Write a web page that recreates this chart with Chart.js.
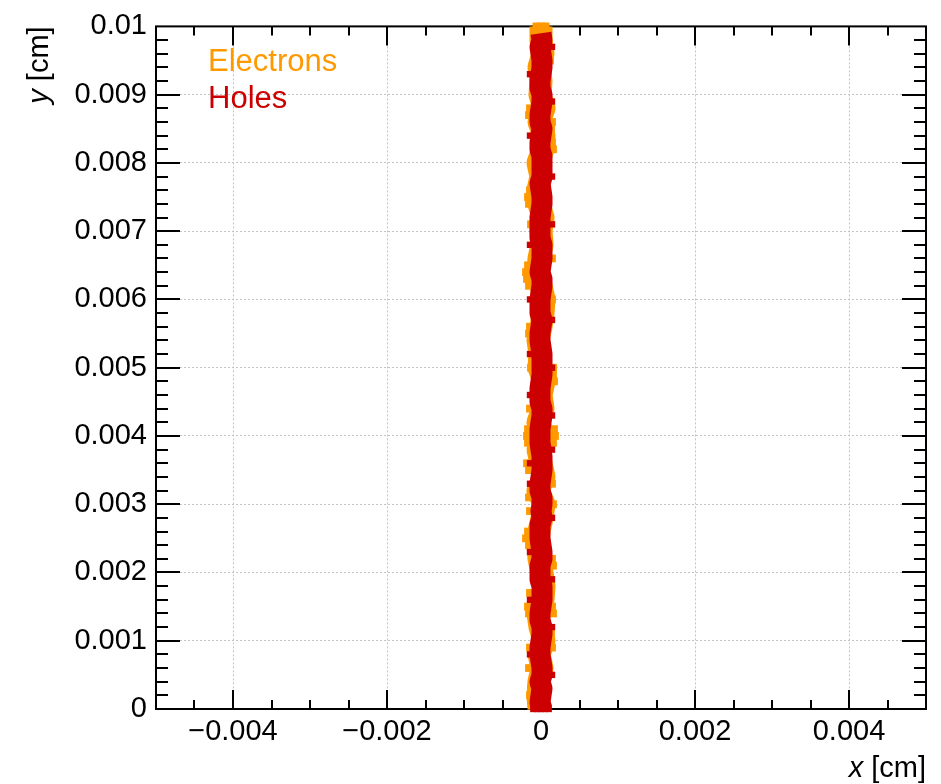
<!DOCTYPE html>
<html><head><meta charset="utf-8">
<script src="https://cdn.jsdelivr.net/npm/chart.js@4.4.1/dist/chart.umd.min.js"></script>
<style>html,body{margin:0;padding:0;background:#fff;overflow:hidden}</style>
</head><body><canvas id="c" width="941" height="784"></canvas>
<script>
// ---- data ----
const xMajorTicks = [-0.004, -0.002, 0, 0.002, 0.004];
const yMajorTicks = [0, 0.001, 0.002, 0.003, 0.004, 0.005, 0.006, 0.007, 0.008, 0.009, 0.01];
const xRange = [-0.005, 0.005];
const yRange = [0, 0.01];
const xMinorStep = 0.0005;
const yMinorStep = 0.0002;
const seriesNames = ['Electrons', 'Holes'];
const seriesColors = ['#ff9900', '#cc0000'];

const electronY = [0, 0.0002, 0.0004, 0.0006, 0.0008, 0.001, 0.0012, 0.0014, 0.0016, 0.0018,
  0.002, 0.0022, 0.0024, 0.0026, 0.0028, 0.003, 0.0032, 0.0034, 0.0036, 0.0038,
  0.004, 0.0042, 0.0044, 0.0046, 0.0048, 0.005, 0.0052, 0.0054, 0.0056, 0.0058,
  0.006, 0.0062, 0.0064, 0.0066, 0.0068, 0.007, 0.0072, 0.0074, 0.0076, 0.0078,
  0.008, 0.0082, 0.0084, 0.0086, 0.0088, 0.009, 0.0092, 0.0094, 0.0096, 0.0098, 0.01];
const electronX = [-0.000026, -0.000039, -0.000026, 0.000013, -0.000026, 0.000039, -0.000013, -0.000039, 0.000026, 0.000039,
  0.000013, -0.000026, -0.000039, -0.000026, 0.000013, 0.000039, -0.000039, 0.000039, 0, -0.000039,
  0.000039, -0.000039, 0.000026, 0, 0.000039, -0.000026, -0.000013, -0.000039, 0, 0.000026,
  0.000039, 0, -0.000039, -0.000026, 0.000013, 0, 0.000026, -0.000026, -0.000039, 0,
  -0.000039, 0.000026, 0.000039, -0.000026, 0.000039, -0.000013, 0, -0.000026, 0.000026, 0, 0];

const holeY = [0, 0.0001, 0.0002, 0.0003, 0.0004, 0.0005, 0.0006, 0.0007, 0.0008, 0.0009,
  0.001, 0.0011, 0.0012, 0.0013, 0.0014, 0.0015, 0.0016, 0.0017, 0.0018, 0.0019,
  0.002, 0.0021, 0.0022, 0.0023, 0.0024, 0.0025, 0.0026, 0.0027, 0.0028, 0.0029,
  0.003, 0.0031, 0.0032, 0.0033, 0.0034, 0.0035, 0.0036, 0.0037, 0.0038, 0.0039,
  0.004, 0.0041, 0.0042, 0.0043, 0.0044, 0.0045, 0.0046, 0.0047, 0.0048, 0.0049,
  0.005, 0.0051, 0.0052, 0.0053, 0.0054, 0.0055, 0.0056, 0.0057, 0.0058, 0.0059,
  0.006, 0.0061, 0.0062, 0.0063, 0.0064, 0.0065, 0.0066, 0.0067, 0.0068, 0.0069,
  0.007, 0.0071, 0.0072, 0.0073, 0.0074, 0.0075, 0.0076, 0.0077, 0.0078, 0.0079,
  0.008, 0.0081, 0.0082, 0.0083, 0.0084, 0.0085, 0.0086, 0.0087, 0.0088, 0.0089,
  0.009, 0.0091, 0.0092, 0.0093, 0.0094, 0.0095, 0.0096, 0.0097, 0.0098, 0.0099];
const holeX = [0.000013, -0.000013, 0, 0.000013, -0.000013, 0.000013, 0.000013, 0, -0.000013, -0.000013,
  0, 0.000013, 0.000013, -0.000013, -0.000013, 0, 0.000013, 0.000013, 0.000013, -0.000013,
  -0.000013, -0.000013, 0.000013, 0.000013, 0, -0.000013, -0.000013, -0.000013, 0.000013, 0,
  0.000013, 0.000013, -0.000013, -0.000013, 0, 0.000013, 0.000013, 0.000013, 0, -0.000013,
  -0.000013, -0.000013, 0, 0.000013, 0.000013, -0.000013, -0.000013, -0.000013, 0, 0.000013,
  0.000013, 0.000013, 0.000013, 0, -0.000013, -0.000013, 0, 0.000013, -0.000013, -0.000013,
  -0.000013, 0, 0.000013, 0.000013, -0.000013, 0, 0.000013, 0.000013, 0.000013, -0.000013,
  -0.000013, -0.000013, -0.000013, 0, 0.000013, 0.000013, 0, -0.000013, 0.000013, 0.000013,
  0.000013, 0.000013, -0.000013, -0.000013, 0, 0.000013, -0.000013, -0.000013, 0, 0.000013,
  0.000013, -0.000013, -0.000013, 0, 0.000013, 0.000013, 0, -0.000013, 0.000013, 0];

// scattered electron / hole positions sticking out of the band
const electronExtraX = [0.000117, -0.000143, 0.000143, -0.000156, 0.00013, 0.000143, 0.000156, -0.00013,
  -0.000169, -0.000156, -0.000143, -0.00013, 0.000143, -0.000195, -0.000182, -0.000169, -0.000156,
  0.000143, -0.000143, -0.000156, 0.000156, -0.00013, 0.000169, 0.000156, -0.000143,
  -0.000169, 0.000169, -0.000182, 0.000182, -0.000169, 0.000156, -0.000182, -0.000156, 0.000143,
  -0.000156, 0.000156, -0.000143, -0.000195, -0.000169, -0.000156, 0.000156, 0.000143, -0.000143,
  -0.000169, 0.000143, -0.000156, 0.000156, 0.00013, -0.000143, 0.000143, -0.000156, -0.00013, -0.000143,
  -0.00006, 0, 0.00006];
const electronExtraY = [0.0095, 0.0088, 0.0086, 0.0087, 0.0085, 0.0083, 0.0082, 0.008,
  0.0075, 0.0074, 0.0076, 0.0071, 0.0066, 0.0064, 0.0063, 0.0065, 0.0062,
  0.006, 0.0056, 0.0055, 0.005, 0.005, 0.0048, 0.0049, 0.0044,
  0.0041, 0.0041, 0.004, 0.004, 0.0039, 0.0039, 0.0036, 0.0035, 0.0033,
  0.0031, 0.003, 0.0029, 0.0025, 0.0026, 0.0024, 0.0021, 0.0022, 0.0017,
  0.0015, 0.0015, 0.0014, 0.0014, 0.0011, 0.0009, 0.0009, 0.0006, 0.0003, 0.0002,
  0.01, 0.01, 0.01];
const holeExtraX = [0.000143, -0.000143, 0.000143, -0.000143, 0.000143, 0.000143, -0.000143, -0.000143,
  0.000143, -0.000143, 0.000143, -0.000143, 0.000143, 0.000143, -0.000143, -0.000143, 0.000143,
  -0.000143, 0.000143, -0.000143, 0.000143, -0.000143, 0.000143,
  -0.0001, -0.00005, 0, 0.00005, 0.0001];
const holeExtraY = [0.0097, 0.0093, 0.0089, 0.0084, 0.0078, 0.0071, 0.0068, 0.006,
  0.0057, 0.0052, 0.005, 0.0046, 0.0043, 0.0038, 0.0036, 0.0033, 0.0028,
  0.0023, 0.0019, 0.0016, 0.0012, 0.0008, 0.0005,
  0, 0, 0, 0, 0];

// ---- helpers ----
const zip = (xs, ys) => xs.map((x, i) => ({x: x, y: ys[i]}));
const FONT = '"Liberation Sans", Arial, Helvetica, sans-serif';
const fmt = v => v === 0 ? '0' : (v < 0 ? '\u2212' + String(-v) : String(v));

const framePlugin = {
  id: 'frame',
  beforeDatasetsDraw(chart) {
    const ctx = chart.ctx, a = chart.chartArea;
    const xs = chart.scales.x, ys = chart.scales.y;
    ctx.save();
    ctx.strokeStyle = '#000';
    ctx.lineWidth = 2;
    ctx.strokeRect(a.left, a.top, a.right - a.left, a.bottom - a.top);
    ctx.beginPath();
    const nx = Math.round((xRange[1] - xRange[0]) / xMinorStep);
    for (let i = 1; i < nx; i++) {
      const v = xRange[0] + i * xMinorStep;
      const major = xMajorTicks.some(t => Math.abs(t - v) < 1e-9);
      const len = major ? 19 : 9;
      const p = Math.round(xs.getPixelForValue(v));
      ctx.moveTo(p, a.bottom); ctx.lineTo(p, a.bottom - len);
      ctx.moveTo(p, a.top); ctx.lineTo(p, a.top + len);
    }
    const ny = Math.round((yRange[1] - yRange[0]) / yMinorStep);
    for (let i = 1; i < ny; i++) {
      const v = yRange[0] + i * yMinorStep;
      const major = yMajorTicks.some(t => Math.abs(t - v) < 1e-9);
      const len = major ? 24 : 12;
      const p = Math.round(ys.getPixelForValue(v));
      ctx.moveTo(a.left, p); ctx.lineTo(a.left + len, p);
      ctx.moveTo(a.right, p); ctx.lineTo(a.right - len, p);
    }
    ctx.stroke();
    ctx.restore();
  },
  afterDraw(chart) {
    const ctx = chart.ctx, a = chart.chartArea;
    ctx.save();
    // legend
    ctx.font = '31px ' + FONT;
    ctx.textAlign = 'left';
    ctx.textBaseline = 'alphabetic';
    ctx.fillStyle = seriesColors[0];
    ctx.fillText(seriesNames[0], 208, 71);
    ctx.fillStyle = seriesColors[1];
    ctx.fillText(seriesNames[1], 208, 108);
    // x title
    ctx.fillStyle = '#000';
    ctx.font = '29px ' + FONT;
    ctx.textAlign = 'right';
    const unit = ' [cm]';
    const uw = ctx.measureText(unit).width;
    ctx.fillText(unit, a.right, 777);
    ctx.font = 'italic 29px ' + FONT;
    ctx.fillText('x', a.right - uw, 777);
    // y title
    ctx.translate(48, a.top);
    ctx.rotate(-Math.PI / 2);
    ctx.font = '29px ' + FONT;
    ctx.fillText(unit, 0, 0);
    ctx.font = 'italic 29px ' + FONT;
    ctx.fillText('y', -uw, 0);
    ctx.restore();
  }
};

new Chart(document.getElementById('c'), {
  type: 'scatter',
  data: {
    datasets: [
      {label: seriesNames[1], data: zip(holeX, holeY), showLine: true, borderColor: seriesColors[1],
        borderWidth: 21, borderJoinStyle: 'round', borderCapStyle: 'butt', pointRadius: 0, clip: false, order: 1},
      {label: seriesNames[1] + ' extra', data: zip(holeExtraX, holeExtraY), showLine: false,
        pointStyle: 'rect', pointRadius: 4.5, backgroundColor: seriesColors[1], borderWidth: 0, clip: false, order: 2},
      {label: seriesNames[0], data: zip(electronX, electronY), showLine: true, borderColor: seriesColors[0],
        borderWidth: 23, borderJoinStyle: 'round', borderCapStyle: 'butt', pointRadius: 0, clip: false, order: 3},
      {label: seriesNames[0] + ' extra', data: zip(electronExtraX, electronExtraY), showLine: false,
        pointStyle: 'rect', pointRadius: 5.5, backgroundColor: seriesColors[0], borderWidth: 0, clip: false, order: 4}
    ]
  },
  options: {
    responsive: false,
    animation: false,
    devicePixelRatio: 1,
    layout: {padding: {left: 0, top: 20, right: 15, bottom: 0}},
    plugins: {legend: {display: false}, tooltip: {enabled: false}},
    scales: {
      x: {
        type: 'linear', min: xRange[0], max: xRange[1],
        afterBuildTicks: s => { s.ticks = xMajorTicks.map(v => ({value: v})); },
        afterFit: s => { s.height = 75; },
        ticks: {callback: fmt, color: '#000', font: {family: FONT, size: 29}, padding: 6, maxRotation: 0, autoSkip: false},
        grid: {color: '#c4c4c4', lineWidth: 1, drawTicks: false},
        border: {display: false, dash: [2, 2]}
      },
      y: {
        type: 'linear', min: yRange[0], max: yRange[1],
        afterBuildTicks: s => { s.ticks = yMajorTicks.map(v => ({value: v})); },
        afterFit: s => { s.width = 156; },
        ticks: {callback: fmt, color: '#000', font: {family: FONT, size: 29}, padding: 9, autoSkip: false},
        grid: {color: '#c4c4c4', lineWidth: 1, drawTicks: false},
        border: {display: false, dash: [2, 2]}
      }
    }
  },
  plugins: [framePlugin]
});
</script>
</body></html>
